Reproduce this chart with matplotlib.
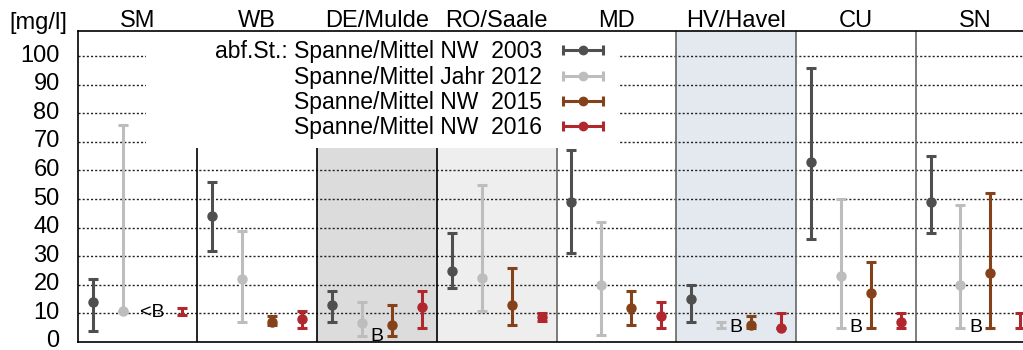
import matplotlib.pyplot as plt
import numpy as np
from matplotlib.patches import Rectangle
from matplotlib.legend_handler import HandlerErrorbar
from matplotlib.transforms import ScaledTranslation

plt.rcParams['font.family'] = ['Liberation Sans', 'DejaVu Sans']

nan = np.nan
panels = ['SM', 'WB', 'DE/Mulde', 'RO/Saale', 'MD', 'HV/Havel', 'CU', 'SN']

# Spanne (low/high) und Mittel je Messstelle
nw2003_mean = [14, 44, 13, 25, 49, 15, 63, 49]
nw2003_low = [4, 32, 7, 19, 31, 7, 36, 38]
nw2003_high = [22, 56, 18, 38, 67, 20, 96, 65]

jahr2012_mean = [11, 22, 6.5, 22.5, 20, nan, 23, 20]
jahr2012_low = [11, 7, 2, 11, 2.5, 5, 5, 5]
jahr2012_high = [76, 39, 14, 55, 42, 7, 50, 48]

nw2015_mean = [nan, 7, 6, 13, 12, 6, 17, 24]
nw2015_low = [nan, 6, 2, 6, 6, 5, 5, 5]
nw2015_high = [nan, 9, 13, 26, 18, 9, 28, 52]

nw2016_mean = [nan, 8, 12.3, 8.7, 9, 5, 7, nan]
nw2016_low = [9.5, 5, 5, 7.5, 5, 5, 5, 5]
nw2016_high = [11.8, 11, 18, 10, 14, 10, 10, 10]

series = [
    ('abf.St.: Spanne/Mittel NW  2003', nw2003_mean, nw2003_low, nw2003_high, '#4f4f4f'),
    ('Spanne/Mittel Jahr 2012', jahr2012_mean, jahr2012_low, jahr2012_high, '#bdbdbd'),
    ('Spanne/Mittel NW  2015', nw2015_mean, nw2015_low, nw2015_high, '#85421a'),
    ('Spanne/Mittel NW  2016', nw2016_mean, nw2016_low, nw2016_high, '#b0282e'),
]

# Hinweise "unter Bestimmungsgrenze"
note_text = ['<B', 'B', 'B', 'B', 'B']
note_panel = [0, 2, 5, 6, 7]
note_slot = [0.62, 0.5, 0.5, 0.5, 0.5]
note_y = [10.3, 2.0, 5.0, 5.0, 5.0]

fig = plt.figure(figsize=(10.23, 3.5), dpi=100)
ax = fig.add_axes([0.076, 0.0229, 0.936, 0.8885])
ax.set_xlim(0, len(panels))
ax.set_ylim(0, 108.8)

# hinterlegte Felder
ax.add_patch(Rectangle((2, 0), 1, 108.8, facecolor='#dcdcdc', lw=0, zorder=0.5))
ax.add_patch(Rectangle((3, 0), 1, 108.8, facecolor='#eeeeee', lw=0, zorder=0.5))
ax.add_patch(Rectangle((5, 0), 1, 108.8, facecolor='#e4e9f0', lw=0, zorder=0.5))

for y in range(10, 101, 10):
    ax.axhline(y, color='#222222', lw=1, ls=(0, (1.5, 1.5)), zorder=1)

sep_colors = ['black', 'black', 'black', '#666666', '#666666', '#666666', '#666666']
for i, c in enumerate(sep_colors):
    ax.axvline(i + 1, color=c, lw=1.2, zorder=1.5)

# weisser Legendenhintergrund
ax.add_patch(Rectangle((0.57, 68), 3.94, 45, facecolor='white', edgecolor='none', zorder=2))

slots = [0.125, 0.375, 0.625, 0.875]
x0 = np.arange(len(panels))
proxies = []
for k, (label, mean, low, high, color) in enumerate(series):
    low = np.array(low, float)
    high = np.array(high, float)
    mean = np.array(mean, float)
    xs = x0 + slots[k]
    mid = (low + high) / 2
    ax.errorbar(xs, mid, yerr=[mid - low, high - mid], fmt='none', ecolor=color,
                elinewidth=2.2, capsize=3.6, capthick=2.2, zorder=3)
    ax.plot(xs, mean, 'o', color=color, ms=6.5, zorder=3.5)
    p = ax.errorbar([nan], [nan], xerr=[[0], [0]], fmt='o', color=color, ms=6,
                    elinewidth=2.2, capsize=3.6, capthick=2.2, label=label)
    proxies.append(p)

for t, p, s, y in zip(note_text, note_panel, note_slot, note_y):
    ax.text(p + s, y, t, ha='center', va='center', fontsize=14, zorder=4)

leg = ax.legend(handles=proxies, loc='upper right', bbox_to_anchor=(0.5486, 0.97),
                markerfirst=False, frameon=False, fontsize=16.5, handlelength=1.75,
                labelspacing=0.1, handletextpad=0.9, borderpad=0, borderaxespad=0,
                handler_map={type(proxies[0]): HandlerErrorbar(xerr_size=0.87)})
leg.set_zorder(5)

for i, name in enumerate(panels):
    ax.text(i + 0.5, 1.012, name, transform=ax.get_xaxis_transform(), ha='center',
            va='baseline', fontsize=17)
fig.text(0.009, 0.918, '[mg/l]', fontsize=17, va='baseline', ha='left')

ax.set_yticks(range(0, 101, 10))
ax.set_xticks([])
ax.tick_params(axis='y', length=0, pad=13, labelsize=17)
shift = ScaledTranslation(0, 3 / 100, fig.dpi_scale_trans)
for lab in ax.get_yticklabels():
    lab.set_transform(lab.get_transform() + shift)
for s in ['left', 'top', 'bottom']:
    ax.spines[s].set_color('black')
    ax.spines[s].set_linewidth(1.2)

fig.savefig('out.png', dpi=100)
